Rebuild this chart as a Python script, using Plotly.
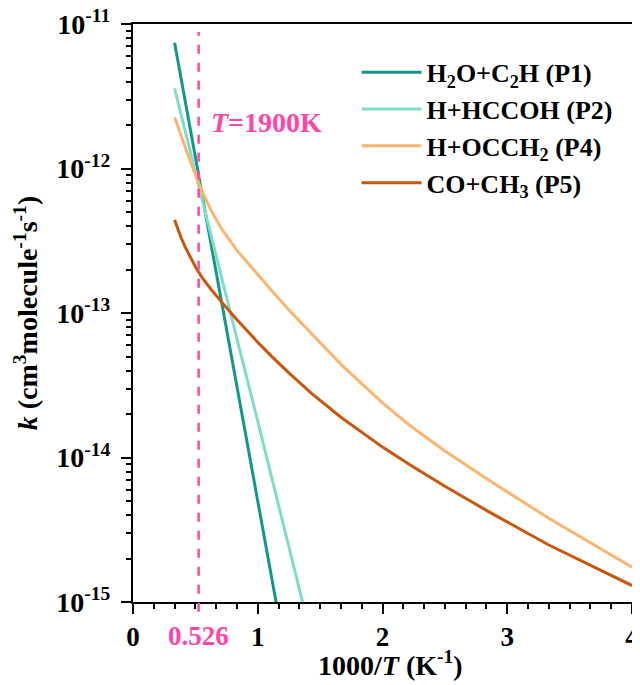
import plotly.graph_objects as go

# Temperatures (K) at which rate constants were read
T_P1 = [3000, 2800, 2600, 2400, 2200, 2000, 1800, 1600, 1400, 1200, 1000, 900, 850]
k_P1 = [7.41e-12, 5.75e-12, 4.17e-12, 2.95e-12, 1.95e-12, 1.20e-12, 6.46e-13,
        3.02e-13, 1.15e-13, 3.09e-14, 5.01e-15, 1.48e-15, 7.24e-16]

T_P2 = [3000, 2800, 2600, 2400, 2200, 2000, 1800, 1600, 1400, 1200, 1000, 900, 800, 700]
k_P2 = [3.59e-12, 2.95e-12, 2.40e-12, 1.86e-12, 1.35e-12, 9.55e-13, 6.03e-13,
        3.47e-13, 1.74e-13, 6.61e-14, 1.78e-14, 7.41e-15, 2.40e-15, 5.75e-16]

T_P45 = [3000, 2800, 2600, 2400, 2200, 2000, 1800, 1600, 1400, 1200, 1000, 900,
         800, 700, 600, 500, 450, 400, 350, 300, 250]
k_P4 = [2.26e-12, 1.97e-12, 1.68e-12, 1.41e-12, 1.15e-12, 9.06e-13, 6.92e-13,
        5.13e-13, 3.77e-13, 2.71e-13, 1.83e-13, 1.43e-13, 1.05e-13, 7.21e-14,
        4.41e-14, 2.39e-14, 1.66e-14, 1.11e-14, 6.92e-15, 3.80e-15, 1.74e-15]
k_P5 = [4.41e-13, 3.85e-13, 3.34e-13, 2.88e-13, 2.47e-13, 2.09e-13, 1.75e-13,
        1.46e-13, 1.18e-13, 8.97e-14, 6.28e-14, 5.01e-14, 3.85e-14, 2.79e-14,
        1.90e-14, 1.18e-14, 8.87e-15, 6.32e-15, 4.19e-15, 2.48e-15, 1.30e-15]

names = ["H<sub>2</sub>O+C<sub>2</sub>H (P1)", "H+HCCOH (P2)",
         "H+OCCH<sub>2</sub> (P4)", "CO+CH<sub>3</sub> (P5)"]
colors = ["#12978a", "#80dcc8", "#fdb46e", "#c9580c"]

x_ticks = [0, 1, 2, 3, 4]
y_ticks = [1e-15, 1e-14, 1e-13, 1e-12, 1e-11]
y_ticktext = ["10<sup>-15</sup>", "10<sup>-14</sup>", "10<sup>-13</sup>",
              "10<sup>-12</sup>", "10<sup>-11</sup>"]
x_mark = 0.526
mark_label = "<i>T</i>=1900K"
x_title = "1000/<i>T</i> (K<sup>-1</sup>)"
y_title = "<i>k</i> (cm<sup>3</sup>molecule<sup>-1</sup>s<sup>-1</sup>)"
PINK = "#ff45a8"

FONT = "Liberation Serif, Times New Roman, serif"

def inv(Ts):
    return [1000.0 / t for t in Ts]

fig = go.Figure()
for Ts, ks, nm, c in [(T_P1, k_P1, names[0], colors[0]),
                      (T_P2, k_P2, names[1], colors[1]),
                      (T_P45, k_P4, names[2], colors[2]),
                      (T_P45, k_P5, names[3], colors[3])]:
    fig.add_trace(go.Scatter(x=inv(Ts), y=ks, mode="lines", name=nm,
                             line=dict(color=c, width=3)))

fig.add_shape(type="line", xref="x", yref="paper", x0=x_mark, x1=x_mark,
              y0=-0.017, y1=0.986, line=dict(color=PINK, width=2.5, dash="dash"),
              layer="above")
fig.add_annotation(x=x_mark, xref="x", y=-0.059, yref="paper", text="0.526",
                   showarrow=False, yanchor="middle", xanchor="center",
                   font=dict(family=FONT, size=27, color=PINK, weight="bold"))
fig.add_annotation(x=0.61, xref="x", y=0.830, yref="paper", text=mark_label,
                   showarrow=False, yanchor="middle", xanchor="left",
                   font=dict(family=FONT, size=28, color=PINK, weight="bold"))
fig.add_annotation(x=0.517, xref="paper", y=-0.107, yref="paper", text=x_title,
                   showarrow=False, yanchor="middle", xanchor="center",
                   font=dict(family=FONT, size=28, color="black", weight="bold"))

# page body has an 8px margin, so the figure is sized/offset to compensate
fig.update_layout(
    width=632, height=677,
    margin=dict(l=125, r=8, t=16, b=83),
    paper_bgcolor="white", plot_bgcolor="white",
    font=dict(family=FONT, size=26, color="black", weight="bold"),
    showlegend=True,
    legend=dict(x=0.448, y=0.957, xanchor="left", yanchor="top",
                bgcolor="rgba(0,0,0,0)", font=dict(family=FONT, size=26, weight="bold"),
                tracegroupgap=0, itemwidth=60),
)
fig.update_xaxes(
    range=[0, 4], tickvals=x_ticks, ticktext=[str(v) for v in x_ticks],
    automargin=False, ticklabeloverflow="allow",
    showgrid=False, zeroline=False, showline=True, linecolor="black", linewidth=2,
    mirror=True, ticks="outside", ticklen=10, tickwidth=2, tickcolor="black",
    tickfont=dict(family=FONT, size=27, weight="bold"),
    minor=dict(dtick=1/6, tick0=0, ticks="outside", ticklen=5, tickwidth=2, tickcolor="black"),
)
fig.update_yaxes(
    type="log", range=[-15, -11], tickvals=y_ticks, ticktext=y_ticktext,
    automargin=False, ticklabeloverflow="allow", ticklabelstandoff=5,
    showgrid=False, zeroline=False, showline=True, linecolor="black", linewidth=2,
    mirror=True, ticks="outside", ticklen=10, tickwidth=2, tickcolor="black",
    tickfont=dict(family=FONT, size=28, weight="bold"),
    minor=dict(dtick="D1", ticks="outside", ticklen=5, tickwidth=2, tickcolor="black"),
    title=dict(text=y_title, standoff=10,
               font=dict(family=FONT, size=28, weight="bold")),
)

fig.write_html("out.html")
